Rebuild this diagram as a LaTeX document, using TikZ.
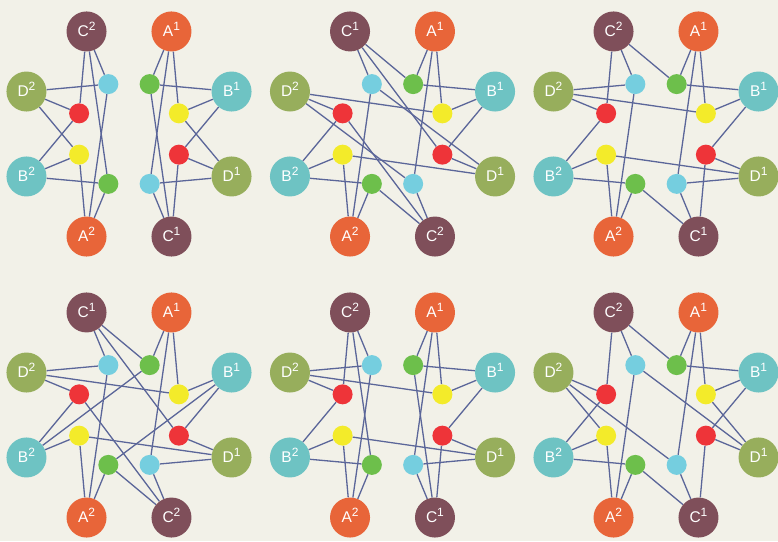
\documentclass[tikz,border=0pt]{standalone}
\usepackage{fontspec}
\setmainfont{Liberation Sans}
\usepackage{tikz}
\usetikzlibrary{backgrounds}

\definecolor{paper}{RGB}{242,241,232}
\definecolor{linkcol}{RGB}{91,102,153}
\definecolor{colA}{RGB}{232,101,57}
\definecolor{colB}{RGB}{110,195,195}
\definecolor{colC}{RGB}{127,79,90}
\definecolor{colD}{RGB}{151,174,92}
\definecolor{dotRed}{RGB}{238,52,57}
\definecolor{dotYellow}{RGB}{243,235,42}
\definecolor{dotGreen}{RGB}{109,191,75}
\definecolor{dotCyan}{RGB}{117,206,223}

\newcommand\vtx[2]{#1\smash{\raisebox{6.5pt}{\fontsize{12}{12}\selectfont#2}}}

\begin{document}
\begin{tikzpicture}[x=1pt, y=1pt,
  big/.style={circle, minimum size=40pt, inner sep=0pt, text=white, font=\fontsize{15.5}{15.5}\selectfont},
  dot/.style={circle, minimum size=20pt, inner sep=0pt},
  link/.style={draw=linkcol, line width=1.3pt}]

  \useasboundingbox (0,0) rectangle (778,541);

  % Nodes: six panels, C^1 and C^2 swap between top-left and bottom-right
  \foreach \p/\cx/\cy/\tl/\br in {1/129/407/2/1, 2/392.5/407/1/2, 3/656/407/2/1,
                                  4/129/126/1/2, 5/392.5/126/2/1, 6/656/126/2/1}{
    \begin{scope}[shift={(\cx,\cy)}]
      \node[big, fill=colC] (p\p-C\tl) at (112.5:111) {\vtx{C}{\tl}};
      \node[big, fill=colA] (p\p-A1) at (67.5:111) {\vtx{A}{1}};
      \node[big, fill=colD] (p\p-D2) at (157.5:111) {\vtx{D}{2}};
      \node[big, fill=colB] (p\p-B1) at (22.5:111) {\vtx{B}{1}};
      \node[big, fill=colB] (p\p-B2) at (202.5:111) {\vtx{B}{2}};
      \node[big, fill=colD] (p\p-D1) at (-22.5:111) {\vtx{D}{1}};
      \node[big, fill=colA] (p\p-A2) at (247.5:111) {\vtx{A}{2}};
      \node[big, fill=colC] (p\p-C\br) at (292.5:111) {\vtx{C}{\br}};
      % inner dots
      \node[dot, fill=dotCyan] (p\p-cy1) at (112.5:54) {};
      \node[dot, fill=dotGreen] (p\p-gr1) at (67.5:54) {};
      \node[dot, fill=dotRed] (p\p-rd1) at (157.5:54) {};
      \node[dot, fill=dotYellow] (p\p-ye1) at (22.5:54) {};
      \node[dot, fill=dotYellow] (p\p-ye2) at (202.5:54) {};
      \node[dot, fill=dotRed] (p\p-rd2) at (-22.5:54) {};
      \node[dot, fill=dotGreen] (p\p-gr2) at (247.5:54) {};
      \node[dot, fill=dotCyan] (p\p-cy2) at (292.5:54) {};
    \end{scope}
  }

  \begin{scope}[on background layer]
    \fill[paper] (0,0) rectangle (778,541);
    % Links: each dot to three letters
    \foreach \s/\x/\y/\z in {cy1/C2/D2/A2, gr1/A1/B1/C1, rd1/D2/B2/C2, ye1/A1/B1/D1, ye2/D2/B2/A2, rd2/B1/D1/C1, gr2/B2/A2/C2, cy2/D1/C1/A1}
      \draw[link] (p1-\s) -- (p1-\x) (p1-\s) -- (p1-\y) (p1-\s) -- (p1-\z);
    \foreach \s/\x/\y/\z in {cy1/C1/A2/D1, gr1/A1/B1/C1, rd1/D2/B2/C2, ye1/A1/B1/D2, ye2/B2/A2/D1, rd2/B1/D1/C1, gr2/B2/A2/C2, cy2/C2/A1/D2}
      \draw[link] (p2-\s) -- (p2-\x) (p2-\s) -- (p2-\y) (p2-\s) -- (p2-\z);
    \foreach \s/\x/\y/\z in {cy1/C2/D2/A2, gr1/C2/A1/B1, rd1/C2/D2/B2, ye1/A1/D2/B1, ye2/B2/D1/A2, rd2/B1/D1/C1, gr2/B2/A2/C1, cy2/A1/D1/C1}
      \draw[link] (p3-\s) -- (p3-\x) (p3-\s) -- (p3-\y) (p3-\s) -- (p3-\z);
    \foreach \s/\x/\y/\z in {cy1/C1/D2/A2, gr1/C1/A1/B2, rd1/D2/B2/C2, ye1/A1/D2/B1, ye2/B2/D1/A2, rd2/C1/B1/D1, gr2/B1/A2/C2, cy2/A1/D1/C2}
      \draw[link] (p4-\s) -- (p4-\x) (p4-\s) -- (p4-\y) (p4-\s) -- (p4-\z);
    \foreach \s/\x/\y/\z in {cy1/C2/D2/A2, gr1/A1/B1/C1, rd1/C2/D2/B2, ye1/A1/B1/D2, ye2/B2/A2/D1, rd2/B1/D1/C1, gr2/B2/A2/C2, cy2/A1/D1/C1}
      \draw[link] (p5-\s) -- (p5-\x) (p5-\s) -- (p5-\y) (p5-\s) -- (p5-\z);
    \foreach \s/\x/\y/\z in {cy1/C2/A2/D1, gr1/C2/A1/B1, rd1/C2/D2/B2, ye1/A1/B1/D1, ye2/D2/B2/A2, rd2/B1/D1/C1, gr2/B2/A2/C1, cy2/A1/C1/D2}
      \draw[link] (p6-\s) -- (p6-\x) (p6-\s) -- (p6-\y) (p6-\s) -- (p6-\z);
  \end{scope}
\end{tikzpicture}
\end{document}
